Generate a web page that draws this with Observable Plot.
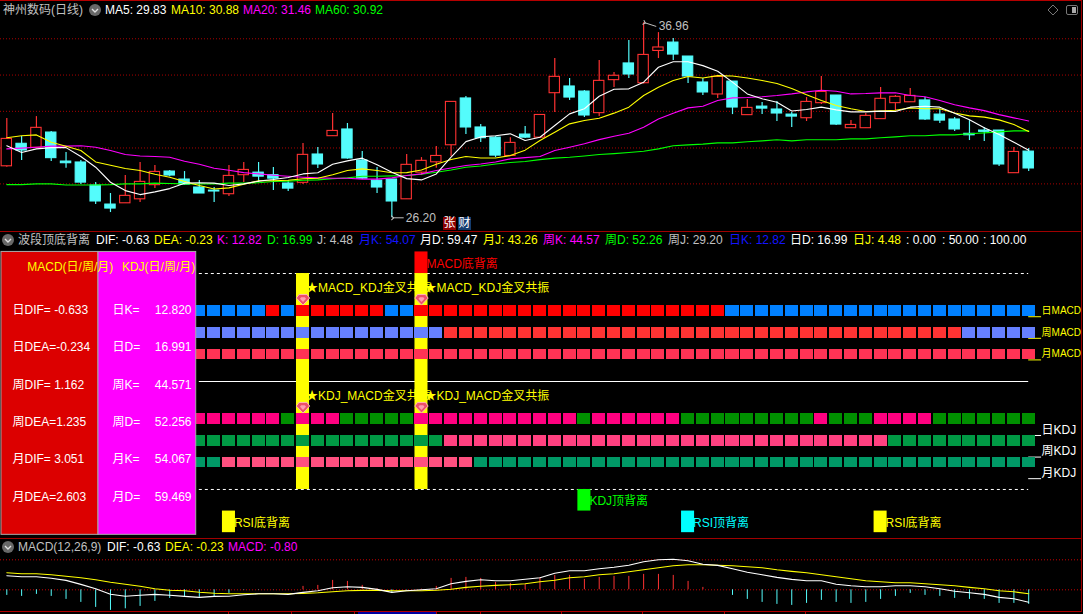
<!DOCTYPE html>
<html><head><meta charset="utf-8">
<script src="https://cdn.jsdelivr.net/npm/d3@7"></script>
<script src="https://cdn.jsdelivr.net/npm/@observablehq/plot@0.6"></script>
<style>
html,body{margin:0;padding:0;background:#000;overflow:hidden;width:1083px;height:614px}
#root{position:relative;width:1083px;height:614px;overflow:hidden;font:12px "Liberation Sans","Noto Sans CJK SC",sans-serif}
.abs{position:absolute;white-space:pre;line-height:14px}
.panel{position:absolute;left:0}
svg{display:block}
</style></head><body><div id="root"></div>
<script>
const FONT='"Liberation Sans","Noto Sans CJK SC",sans-serif';
const opens=[29.04,30.28,30.06,30.90,29.30,29.25,27.98,26.93,27.00,27.22,28.00,28.75,28.31,27.87,27.70,27.50,28.55,28.69,28.55,28.09,28.13,29.69,30.70,31.07,29.36,28.25,28.31,27.22,28.69,29.26,30.20,32.78,31.18,30.62,29.61,30.79,30.62,33.07,33.44,33.16,31.97,33.79,34.71,33.62,35.40,35.86,35.09,33.66,33.00,33.71,31.86,32.33,32.17,31.89,31.69,32.52,32.94,31.14,31.14,31.64,32.52,32.57,32.67,31.89,31.62,30.83,31.01,31.01,28.66,29.85];
const closes=[30.55,29.91,31.16,29.49,29.21,28.14,27.10,26.71,27.41,28.18,28.73,28.53,28.03,27.54,27.65,28.51,28.84,28.47,28.36,27.81,29.67,29.14,30.99,29.47,28.36,27.87,27.10,29.12,29.34,29.61,32.59,31.18,30.59,29.63,30.33,30.62,31.87,33.97,32.83,31.84,33.75,34.03,34.10,35.18,35.59,35.20,33.99,33.11,33.97,32.28,32.26,32.22,31.95,31.78,32.59,33.14,31.34,31.32,31.82,32.76,32.87,32.92,31.62,31.56,31.07,30.75,30.94,29.14,29.83,28.92];
const highs=[31.67,30.68,31.78,30.96,29.80,29.36,28.14,27.54,28.53,29.25,29.08,28.81,28.75,28.25,27.87,29.08,29.25,29.25,28.97,28.25,30.29,30.07,31.95,31.40,29.85,28.97,28.31,29.69,29.52,30.13,32.59,32.89,31.34,30.68,30.62,31.23,31.87,34.98,33.88,33.22,34.87,34.21,35.97,36.96,36.41,36.08,35.09,33.88,34.04,33.71,32.72,32.55,32.61,32.00,32.83,33.99,32.94,31.56,31.95,33.38,32.94,33.33,32.83,32.17,31.73,31.56,31.18,31.01,30.07,30.02];
const lows=[28.99,29.36,30.06,29.30,28.93,28.03,26.93,26.49,27.00,27.04,27.81,28.47,27.98,27.54,27.04,27.37,28.14,28.14,27.70,27.65,28.03,28.92,30.70,29.43,28.31,27.54,26.20,27.22,28.53,28.93,29.58,30.79,30.35,29.52,29.58,30.57,30.62,32.00,32.67,31.73,31.78,33.38,33.88,33.58,34.98,34.87,33.60,32.94,32.78,31.89,31.86,31.89,31.51,31.18,31.51,32.44,31.29,31.14,31.14,31.64,32.11,32.57,31.56,31.40,30.96,30.46,30.40,29.03,28.66,28.75];
const ma5=[30.17,29.80,30.00,30.07,30.07,29.58,28.99,28.16,27.70,27.48,27.63,27.81,28.11,28.13,28.11,27.98,28.07,28.22,28.31,28.42,28.62,28.68,29.15,29.34,29.49,29.12,28.71,28.36,28.29,28.62,29.54,30.40,30.66,30.72,30.83,30.46,30.64,31.29,31.93,32.21,32.90,33.29,33.31,33.68,34.50,34.80,34.80,34.59,34.28,33.68,33.03,32.76,32.57,32.09,32.17,32.30,32.15,32.04,32.04,32.08,32.06,32.30,32.35,32.30,31.97,31.60,31.16,30.79,30.37,29.93];
const ma10=[30.61,30.72,30.77,30.37,30.15,29.91,29.28,29.10,28.92,28.81,28.60,28.44,28.20,27.98,27.79,27.85,28.05,28.24,28.24,28.27,28.35,28.38,28.57,28.81,28.90,28.81,28.68,28.69,28.84,29.15,29.41,29.58,29.50,29.50,29.63,29.93,30.46,30.92,31.38,31.56,31.69,31.97,32.30,32.94,33.40,33.77,33.99,33.91,34.04,34.02,33.91,33.77,33.60,33.33,32.98,32.67,32.39,32.21,32.06,32.09,32.13,32.26,32.21,32.21,31.98,31.82,31.75,31.60,31.34,30.96];
const ma20=[30.00,30.04,30.09,30.15,30.15,30.17,30.09,29.91,29.69,29.61,29.58,29.54,29.32,29.15,28.93,28.82,28.69,28.62,28.55,28.49,28.44,28.40,28.38,28.38,28.33,28.33,28.40,28.53,28.62,28.81,28.95,29.08,29.17,29.28,29.45,29.52,29.58,29.91,30.09,30.28,30.51,30.70,30.86,31.19,31.65,31.97,32.26,32.35,32.67,32.81,32.83,32.87,32.94,33.03,33.14,33.23,33.18,33.03,33.05,33.09,33.09,32.94,32.87,32.67,32.43,32.26,32.11,31.89,31.71,31.54];
const ma60=[28.03,28.03,28.07,28.07,28.01,28.01,28.01,28.03,28.07,28.07,28.11,28.09,28.07,28.07,28.07,28.11,28.11,28.13,28.20,28.22,28.27,28.29,28.35,28.40,28.49,28.49,28.51,28.53,28.60,28.71,28.84,28.99,29.06,29.17,29.25,29.30,29.41,29.49,29.54,29.61,29.69,29.74,29.80,29.87,30.00,30.17,30.22,30.26,30.33,30.33,30.39,30.44,30.50,30.44,30.50,30.50,30.50,30.55,30.55,30.61,30.66,30.72,30.72,30.77,30.77,30.83,30.88,30.94,30.99,30.99];
const priceGrid=[36.07,34.07,32.07,30.05,28.07];
const dif=[0.70,0.65,0.65,0.58,0.47,0.27,0.05,-0.22,-0.32,-0.27,-0.23,-0.27,-0.33,-0.38,-0.33,-0.32,-0.25,-0.20,-0.20,-0.23,-0.13,-0.05,0.10,0.15,0.12,0.02,-0.13,-0.05,0,0.05,0.30,0.42,0.50,0.45,0.45,0.53,0.60,0.83,0.95,0.95,1.05,1.13,1.23,1.40,1.50,1.53,1.45,1.28,1.22,1.05,0.88,0.75,0.62,0.52,0.45,0.45,0.28,0.20,0.15,0.15,0.20,0.20,0.15,0.05,-0.07,-0.15,-0.23,-0.38,-0.45,-0.62];
const dea=[0.85,0.80,0.80,0.75,0.68,0.60,0.50,0.38,0.28,0.18,0.05,-0.02,-0.05,-0.12,-0.17,-0.20,-0.20,-0.20,-0.20,-0.20,-0.18,-0.15,-0.10,-0.05,-0.03,-0.03,-0.05,-0.05,-0.05,-0.02,0.03,0.12,0.18,0.22,0.25,0.30,0.40,0.48,0.60,0.65,0.75,0.80,0.90,1.00,1.10,1.20,1.25,1.25,1.23,1.20,1.15,1.10,1.00,0.92,0.85,0.75,0.65,0.55,0.45,0.40,0.35,0.35,0.30,0.25,0.20,0.12,0.05,-0.05,-0.10,-0.20];
const macd=[-0.28,-0.33,-0.23,-0.33,-0.48,-0.63,-0.88,-1.03,-0.95,-0.83,-0.58,-0.43,-0.38,-0.38,-0.37,-0.18,-0.02,-0.02,-0.01,0.01,0.17,0.22,0.47,0.42,0.22,0.05,-0.15,-0.02,0.03,0.17,0.57,0.62,0.57,0.37,0.32,0.27,0.60,0.72,0.72,0.52,0.62,0.67,0.67,0.77,0.77,0.72,0.42,0.12,0.01,-0.28,-0.48,-0.63,-0.73,-0.78,-0.68,-0.53,-0.63,-0.68,-0.63,-0.48,-0.33,-0.18,-0.28,-0.33,-0.43,-0.48,-0.48,-0.68,-0.68,-0.73];
const macdGrid=[0,1.5];

const firstBar=13,lastBar=69;
const dayMacdUp=[[18,18],[20,25],[28,48]];
const weekMacdUp=[[30,64]];
const monthMacdUp=[[13,69]];
const dayKdjUp=[[13,18],[20,22],[28,38],[40,45],[55,55],[59,62]];
const weekKdjUp=[[30,59]];
const monthKdjUp=[[15,31]];
const stripBands=[[80,85],[70,75],[60,65],[30,35],[20,25],[10,15]];
const stripUpColors=["#ff0000","#ff3333","#ff3355","#ff0080","#ff4080","#ff5080"];
const stripDownColors=["#0080ff","#6680ff","#ff3355","#009000","#009944","#009966"];
const stripRuns=[dayMacdUp,weekMacdUp,monthMacdUp,dayKdjUp,weekKdjUp,monthKdjUp];
const stripLabels=["日MACD","周MACD","月MACD","日KDJ","周KDJ","月KDJ"];
const stripLabelColors=["#ffff00","#ffff00","#ffff00","#ffffff","#ffffff","#ffffff"];
const stripLabelSizes=[10,10,10,12,12,12];
const stripBase=[80,70,60,25,15,5];
const resonanceBars=[20,28];
const macdLabels=["日DIF= -0.633","日DEA=-0.234","周DIF= 1.162","周DEA=1.235","月DIF= 3.051","月DEA=2.603"];
const kdjLabels=["日K=","日D=","周K=","周D=","月K=","月D="];
const kdjValues=["12.820","16.991","44.571","52.256","54.067","59.469"];
const tableRowY=[82.9,65.7,48.1,31.2,13.9,-3.7];
const signals=[
 {i:28,y1:100,y2:110,color:"#ff0000",label:"MACD底背离"},
 {i:39,y1:-10,y2:0,color:"#00ff00",label:"KDJ顶背离"},
 {i:15,y1:-20,y2:-10,color:"#ffff00",label:"RSI底背离"},
 {i:46,y1:-20,y2:-10,color:"#00ffff",label:"RSI顶背离"},
 {i:59,y1:-20,y2:-10,color:"#ffff00",label:"RSI底背离"}
];

const WIDTH=1083;
const X={domain:[-0.4254,72.70],axis:null,range:[0,WIDTH]};
const base={width:WIDTH,marginTop:0,marginBottom:0,marginLeft:0,marginRight:0,x:X,
 style:{background:"transparent",fontFamily:FONT,fontSize:"12px",overflow:"hidden"}};
const idx=d3.range(opens.length);
const candles=idx.map(i=>({i,o:opens[i],c:closes[i],h:highs[i],l:lows[i],up:closes[i]>=opens[i]}));
const lineOf=(arr,color)=>Plot.line(arr.map((v,i)=>({i,v})),{x:"i",y:"v",stroke:color,strokeWidth:1.1,curve:"linear"});
const RED="#ff3232",CYAN="#54fcfc";

const priceChart=Plot.plot({...base,height:232,y:{domain:[25.39,38.18],axis:null},marks:[
 Plot.ruleY(priceGrid,{stroke:"#a80000",strokeDasharray:"1 2",strokeWidth:1}),
 Plot.ruleX(candles,{x:"i",y1:"l",y2:"h",stroke:d=>d.up?RED:CYAN,strokeWidth:1.2}),
 Plot.rect(candles,{x1:d=>d.i-.35,x2:d=>d.i+.35,y1:"o",y2:"c",fill:d=>d.up?"#000":CYAN,stroke:d=>d.up?RED:CYAN,strokeWidth:1.1}),
 lineOf(ma60,"#00ff00"),lineOf(ma20,"#ff00ff"),lineOf(ma10,"#ffff00"),lineOf(ma5,"#ffffff"),
 Plot.link([{x1:43.05,x2:43.85,y1:36.96,y2:36.75}],{x1:"x1",x2:"x2",y1:"y1",y2:"y2",stroke:"#c0c0c0",strokeWidth:1,markerStart:"arrow"}),
 Plot.link([{x1:26.05,x2:26.8,y1:26.2,y2:26.2}],{x1:"x1",x2:"x2",y1:"y1",y2:"y2",stroke:"#c0c0c0",strokeWidth:1,markerStart:"arrow"}),
 Plot.text([{i:43,v:36.96,t:"36.96"}],{x:"i",y:"v",text:"t",dx:15,dy:4,textAnchor:"start",fill:"#c0c0c0",fontSize:12}),
 Plot.text([{i:26,v:26.2,t:"26.20"}],{x:"i",y:"v",text:"t",dx:14,textAnchor:"start",fill:"#c0c0c0",fontSize:12})
]});

const squares=[];
stripRuns.forEach((runs,r)=>{
 for(let i=firstBar;i<=lastBar;i++){
  const up=runs.some(([a,b])=>i>=a&&i<=b);
  squares.push({i,y1:stripBands[r][0],y2:stripBands[r][1],color:up?stripUpColors[r]:stripDownColors[r]});
 }
});
const gemSymbol={draw(ctx,size){const s=Math.sqrt(size)/2;
 ctx.moveTo(-s*.6,-s*.75);ctx.lineTo(s*.6,-s*.75);ctx.lineTo(s,-s*.2);ctx.lineTo(0,s*.85);ctx.lineTo(-s,-s*.2);ctx.closePath();}};
const same=d=>d;
const gemMarks=y=>[
 Plot.dot(resonanceBars,{x:same,y,symbol:gemSymbol,r:7.5,fill:"#ee4f6a",stroke:"#ffb4b4",strokeWidth:1}),
 Plot.dot(resonanceBars,{x:same,y,symbol:gemSymbol,r:3.4,fill:"#ff9db0"})
];
const signalChart=Plot.plot({...base,height:306,y:{domain:[-22.7,119],axis:null},marks:[
 Plot.ruleY([100,0],{x1:13.0,x2:69,stroke:"#fff",strokeDasharray:"3 3",strokeWidth:1}),
 Plot.ruleY([50],{x1:13.0,x2:69,stroke:"#fff",strokeWidth:1}),
 ...stripBase.map((v,k)=>Plot.ruleY([v],{x1:69,x2:69.87,stroke:stripLabelColors[k],strokeWidth:1})),
 ...stripLabels.map((t,k)=>Plot.text([t],{x:69.87,y:stripBase[k]+2.7,text:same,fill:stripLabelColors[k],textAnchor:"start",fontSize:stripLabelSizes[k]})),
 Plot.text(resonanceBars,{x:same,y:93,text:()=>"★MACD_KDJ金叉共振",dx:3,textAnchor:"start",fill:"#ffff00",fontSize:12}),
 Plot.text(resonanceBars,{x:same,y:43,text:()=>"★KDJ_MACD金叉共振",dx:3,textAnchor:"start",fill:"#ffff00",fontSize:12}),
 Plot.rect(resonanceBars,{x1:d=>d-.44,x2:d=>d+.44,y1:0,y2:100,fill:"#ffff00"}),
 Plot.text(signals,{x:"i",y:d=>(d.y1+d.y2)/2-.5,text:"label",fill:"color",dx:5,textAnchor:"start",fontSize:12}),
 Plot.rect(signals,{x1:d=>d.i-.44,x2:d=>d.i+.44,y1:"y1",y2:"y2",fill:"color"}),
 Plot.rect(squares,{x1:d=>d.i-.44,x2:d=>d.i+.44,y1:"y1",y2:"y2",fill:"color",shapeRendering:"crispEdges"}),
 ...gemMarks(88),...gemMarks(38),
 Plot.rect([0],{x1:-0.36,x2:6.19,y1:-21,y2:110,fill:"#dc0000",stroke:"#aaaaaa",strokeWidth:1}),
 Plot.rect([0],{x1:6.19,x2:12.79,y1:-21,y2:110,fill:"#ff00ff",stroke:"#aaaaaa",strokeWidth:1}),
 Plot.text(["MACD(日/周/月)"],{x:1.38,y:102.8,text:same,fill:"#ffff00",textAnchor:"start",fontSize:12}),
 Plot.text(["KDJ(日/周/月)"],{x:7.77,y:102.8,text:same,fill:"#ffff00",textAnchor:"start",fontSize:12}),
 Plot.text(macdLabels,{x:0.385,y:(d,k)=>tableRowY[k],text:same,fill:"#fff",textAnchor:"start",fontSize:12}),
 Plot.text(kdjLabels,{x:7.14,y:(d,k)=>tableRowY[k],text:same,fill:"#fff",textAnchor:"start",fontSize:12}),
 Plot.text(kdjValues,{x:12.47,y:(d,k)=>tableRowY[k],text:same,fill:"#fff",textAnchor:"end",fontSize:12})
]});

const bars=macd.map((v,i)=>({i,v}));
const macdChart=Plot.plot({...base,height:76,y:{domain:[-1.235,2.565],axis:null},marks:[
 Plot.ruleY(macdGrid,{stroke:"#c80000",strokeDasharray:"1 2",strokeWidth:1}),
 Plot.ruleX(bars,{x:"i",y1:0,y2:"v",stroke:d=>d.v>=0?RED:CYAN,strokeWidth:1}),
 lineOf(dea,"#ffff00"),lineOf(dif,"#ffffff")
]});

const root=document.getElementById("root");
[[priceChart,0],[signalChart,232],[macdChart,538]].forEach(([el,t])=>{const d=document.createElement("div");d.className="panel";d.style.top=t+"px";d.appendChild(el);root.appendChild(d);});

function box(l,t,w,h,c){const d=document.createElement("div");d.className="abs";d.style.cssText+=`left:${l}px;top:${t}px;width:${w}px;height:${h}px;background:${c}`;root.appendChild(d);return d;}
function label(items,cy){items.forEach(([text,color,x])=>{const s=document.createElement("span");s.className="abs";s.textContent=text;s.style.left=x+"px";s.style.top=(cy-7)+"px";s.style.color=color;root.appendChild(s);});}
function chevron(cx,cy){const n=document.createElementNS("http://www.w3.org/2000/svg","svg");n.setAttribute("width",14);n.setAttribute("height",14);n.style.cssText=`position:absolute;left:${cx-7}px;top:${cy-7}px`;n.innerHTML='<circle cx="7" cy="7" r="6" fill="#686868"/><path d="M4 6 L7 9 L10 6" stroke="#e0e0e0" stroke-width="1.4" fill="none"/>';root.appendChild(n);}

const topLegend=[["神州数码(日线)","#c0c0c0",3],["MA5: 29.83","#ffffff",105],["MA10: 30.88","#ffff00",171],["MA20: 31.46","#ff00ff",243],["MA60: 30.92","#00ff00",315]];
const midLegend=[["波段顶底背离","#c0c0c0",18],["DIF: -0.63","#ffffff",96],["DEA: -0.23","#ffff00",154],["K: 12.82","#ff00ff",217],["D: 16.99","#00ff00",267],["J: 4.48","#c0c0c0",317],["月K: 54.07","#1414ff",359],["月D: 59.47","#ffffff",420],["月J: 43.26","#ffff00",483],["周K: 44.57","#ff00ff",543],["周D: 52.26","#00ff00",605],["周J: 29.20","#c0c0c0",668],["日K: 12.82","#1414ff",729],["日D: 16.99","#ffffff",790],["日J: 4.48","#ffff00",853],[": 0.00","#ffffff",906],[": 50.00","#ffffff",942],[": 100.00","#ffffff",983]];
const lowLegend=[["MACD(12,26,9)","#c0c0c0",18],["DIF: -0.63","#ffffff",107],["DEA: -0.23","#ffff00",165],["MACD: -0.80","#ff00ff",228]];
label(topLegend,10);label(midLegend,240);label(lowLegend,547);
chevron(95,10);chevron(8,240);chevron(8,547);

box(0,0,1083,1,"#b40000");box(0,231,1083,1,"#a00000");box(0,538,1083,1,"#a00000");box(0,611,1083,1,"#b40000");
box(358,612,78,2,"#0000a0");
box(1081,0,2,614,"#000");box(1081,0,1,612,"#a00000");
const axisTicks=[228,291,354,436,480,561,642,724,805];
axisTicks.forEach(x=>box(x,612,1,2,"#b40000"));

const zhang=box(443,217,13,13,"#8b0000");zhang.textContent="张";zhang.style.color="#fff";zhang.style.fontSize="12px";zhang.style.lineHeight="13px";zhang.style.textAlign="center";
const cai=box(458,217,13,13,"#143c6e");cai.textContent="财";cai.style.color="#fff";cai.style.fontSize="12px";cai.style.lineHeight="13px";cai.style.textAlign="center";

const ic=document.createElementNS("http://www.w3.org/2000/svg","svg");ic.setAttribute("width",36);ic.setAttribute("height",16);ic.style.cssText="position:absolute;left:1046px;top:2px";
ic.innerHTML='<path d="M7 3 L12 8 L7 13 L2 8 Z" stroke="#777" fill="none"/><rect x="20.5" y="3.5" width="11" height="9" rx="1.5" stroke="#777" fill="none"/><rect x="26" y="5" width="4" height="6" fill="#aaa"/>';root.appendChild(ic);
</script></body></html>
